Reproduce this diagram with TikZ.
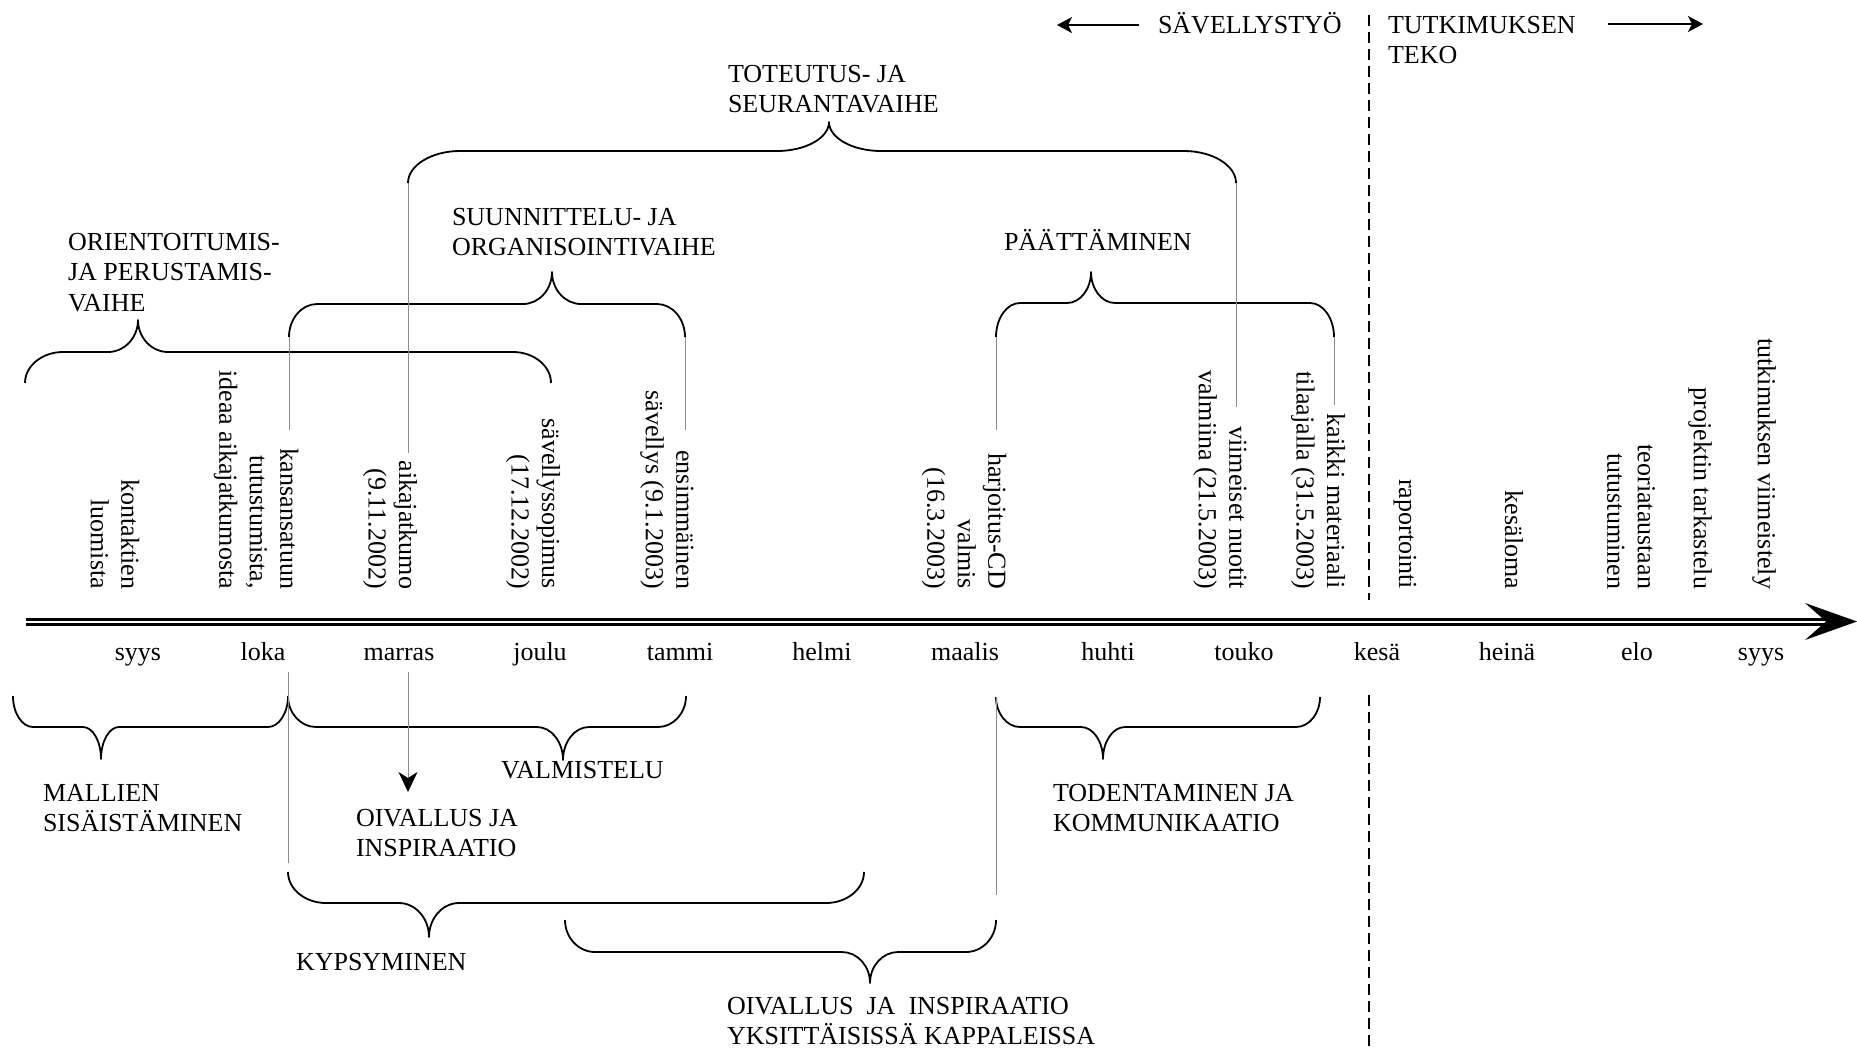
\documentclass[tikz,border=0pt]{standalone}
\usepackage{fontspec}
\setmainfont{Liberation Serif}
\usetikzlibrary{arrows.meta}
\newcommand\lblfont{\fontsize{26}{30.5}\selectfont}
% #1 name, #2 x left end, #3 x right end, #4 x tip, #5 y ends, #6 y middle line, #7 y tip, #8 end radius, #9 tip radius
\newcommand\mybrace[9]{%
  \coordinate (#1-l) at (#2,#5);
  \coordinate (#1-r) at (#3,#5);
  \coordinate (#1-t) at (#4,#7);
  \draw[bracestroke] (#1-l) .. controls (#2,{#5+0.55*(#6-#5)}) and ({#2+0.45*#8},#6) .. ({#2+#8},#6)
    -- ({#4-#9},#6) .. controls ({#4-0.45*#9},#6) and (#4,{#7+0.55*(#6-#7)}) .. (#1-t)
    .. controls (#4,{#7+0.55*(#6-#7)}) and ({#4+0.45*#9},#6) .. ({#4+#9},#6)
    -- ({#3-#8},#6) .. controls ({#3-0.45*#8},#6) and (#3,{#5+0.55*(#6-#5)}) .. (#1-r);
}
\begin{document}
\begin{tikzpicture}[x=1pt,y=-1pt,
  every node/.style={font=\lblfont, inner sep=0pt, outer sep=0pt},
  bracestroke/.style={line width=1.8pt, line join=round},
  leader/.style={line width=0.8pt, black!45},
  hlab/.style={align=left, anchor=north west, execute at begin node={\rule{0pt}{23pt}}},
  slab/.style={anchor=base west},
  vlab/.style={rotate=-90, anchor=east, align=right},
  month/.style={anchor=base},
  dline/.style={line width=2pt, dash pattern=on 11pt off 6pt},
  toparr/.style={line width=2pt, -{Stealth[length=15pt,width=16pt,inset=4pt]}}
]
\fill[white] (0,0) rectangle (1857,1050);
\useasboundingbox (0,0) rectangle (1857,1050);

% ---------- timeline axis ----------
\coordinate (ax0) at (26,621.5);
\coordinate (ax1) at (1857,621.5);
\draw[line width=3pt] (26,619) -- (1826,619);
\draw[line width=2.2pt] (26,624.5) -- (1826,624.5);
\fill (ax1) -- (1805,603) -- (1826,621.5) -- (1805,640) -- cycle;

% ---------- months ----------
\node[month] (m1) at (138,660) {syys};
\node[month] (m2) at (263,660) {loka};
\node[month] (m3) at (399,660) {marras};
\node[month] (m4) at (540,660) {joulu};
\node[month] (m5) at (680,660) {tammi};
\node[month] (m6) at (822,660) {helmi};
\node[month] (m7) at (965,660) {maalis};
\node[month] (m8) at (1108,660) {huhti};
\node[month] (m9) at (1244,660) {touko};
\node[month] (m10) at (1377,660) {kesä};
\node[month] (m11) at (1507,660) {heinä};
\node[month] (m12) at (1637,660) {elo};
\node[month] (m13) at (1761,660) {syys};

% ---------- vertical event labels ----------
\node[vlab] (v1) at (115,589) {kontaktien\\luomista};
\node[vlab] (v2) at (256,589) {kansansatuun\\tutustumista,\\ideaa aikajatkumosta};
\node[vlab] (v3) at (390,589) {aikajatkumo\\(9.11.2002)};
\node[vlab] (v4) at (533,589) {sävellyssopimus\\(17.12.2002)};
\node[vlab] (v5) at (667,589) {ensimmäinen\\sävellys (9.1.2003)};
\node[vlab] (v6) at (964,589) {harjoitus-CD\\valmis\\(16.3.2003)};
\node[vlab] (v7) at (1220,589) {viimeiset nuotit\\valmiina (21.5.2003)};
\node[vlab] (v8) at (1318,589) {kaikki materiaali\\tilaajalla (31.5.2003)};
\node[vlab] (v9) at (1405,589) {raportointi};
\node[vlab] (v10) at (1514,589) {kesäloma};
\node[vlab] (v11) at (1631,589) {teoriataustaan\\tutustuminen};
\node[vlab] (v12) at (1700,589) {projektin tarkastelu};
\node[vlab] (v13) at (1764,589) {tutkimuksen viimeistely};

% ---------- braces above the axis ----------
\mybrace{A}{25}{551}{138}{383}{352}{320}{38}{30}
\mybrace{B}{289}{685}{552}{337}{304}{272}{28}{29}
\mybrace{C}{408}{1236}{829}{183}{151}{122}{52}{52}
\mybrace{D}{996}{1334}{1091}{337}{303}{272}{24}{24}

% ---------- braces below the axis ----------
\mybrace{E}{13}{288}{101}{696}{727}{759}{20}{18}
\mybrace{F}{288}{686}{563}{696}{727}{760}{28}{26}
\mybrace{G}{996}{1320}{1103}{697}{727}{759}{24}{22}
\mybrace{H}{288}{864}{429}{872}{903}{937}{38}{30}
\mybrace{I}{565}{996}{870}{920}{952}{983}{30}{28}

% ---------- phase labels ----------
\node[hlab] (orient) at (68,233) {ORIENTOITUMIS-\\JA PERUSTAMIS-\\VAIHE};
\node[hlab] (suunn) at (452,208) {SUUNNITTELU- JA\\ORGANISOINTIVAIHE};
\node[hlab] (toteu) at (728,65) {TOTEUTUS- JA\\SEURANTAVAIHE};
\node[slab] (paatt) at (1004,250) {PÄÄTTÄMINEN};
\node[slab] (savel) at (1158,33) {SÄVELLYSTYÖ};
\node[hlab] (tutk) at (1388,16) {TUTKIMUKSEN\\TEKO};
\node[hlab] (mall) at (43,784) {MALLIEN\\SISÄISTÄMINEN};
\node[hlab] (oiv1) at (356,809) {OIVALLUS JA\\INSPIRAATIO};
\node[slab] (valm) at (501,778) {VALMISTELU};
\node[hlab] (toden) at (1053,784) {TODENTAMINEN JA\\KOMMUNIKAATIO};
\node[slab] (kyps) at (296,970) {KYPSYMINEN};
\node[hlab] (oiv2) at (727,997) {OIVALLUS\ \ JA\ \ INSPIRAATIO\\YKSITTÄISISSÄ KAPPALEISSA};

% ---------- leader lines ----------
\coordinate (k1) at (289,430);
\coordinate (k2) at (408,453);
\coordinate (k3) at (685,430);
\coordinate (k4) at (996,430);
\coordinate (k5) at (1236,407);
\coordinate (k6) at (1334,405);
\draw[leader] (B-l) -- (k1);
\draw[leader] (C-l) -- (k2);
\draw[leader] (B-r) -- (k3);
\draw[leader] (D-l) -- (k4);
\draw[leader] (C-r) -- (k5);
\draw[leader] (D-r) -- (k6);
\coordinate (b1s) at (288,672);
\coordinate (b1e) at (288,863);
\coordinate (b2s) at (408,672);
\coordinate (b2e) at (408,792);
\coordinate (b3e) at (996,895);
\draw[leader] (b1s) -- (b1e);
\draw[leader, -{Stealth[length=20pt,width=19pt,inset=6pt,black]}] (b2s) -- (b2e);
\draw[leader] (G-l) -- (b3e);

% ---------- divider and top arrows ----------
\draw[dline] (1368.5,15) -- (1368.5,600);
\draw[dline] (1368.5,695) -- (1368.5,1050);
\coordinate (la0) at (1139,25);
\coordinate (la1) at (1057,25);
\coordinate (ra0) at (1608,24);
\coordinate (ra1) at (1703,24);
\draw[toparr] (la0) -- (la1);
\draw[toparr] (ra0) -- (ra1);
\end{tikzpicture}
\end{document}
